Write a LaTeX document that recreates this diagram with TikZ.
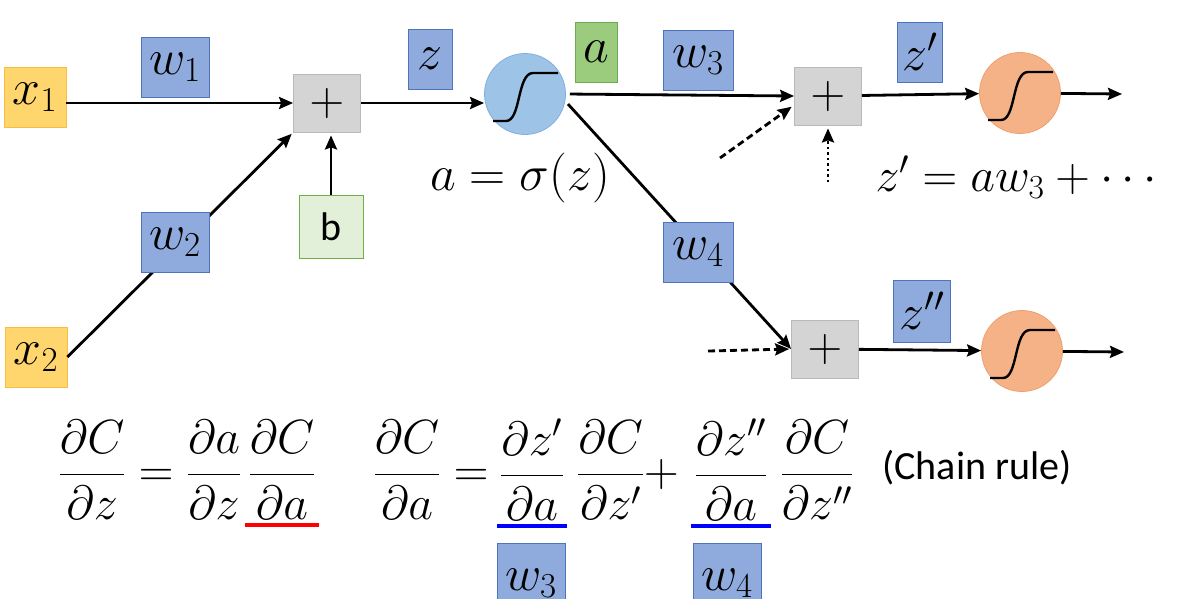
\documentclass[tikz,border=0pt]{standalone}
\usepackage{fix-cm}
\usepackage{amsmath}
\usepackage{fontspec}
\newfontfamily\calibri{Carlito}
\usetikzlibrary{arrows.meta}

\begin{document}
\begin{tikzpicture}[x=1pt,y=-1pt]
\definecolor{Wblue}{RGB}{143,170,220}
\definecolor{Wline}{RGB}{80,115,190}
\definecolor{Xfill}{RGB}{255,214,110}
\definecolor{Xline}{RGB}{250,190,60}
\definecolor{Afill}{RGB}{155,203,125}
\definecolor{Aline}{RGB}{110,170,80}
\definecolor{Bfill}{RGB}{226,240,217}
\definecolor{Bline}{RGB}{112,173,71}
\definecolor{Sgray}{RGB}{212,212,212}
\definecolor{Sline}{RGB}{185,185,185}
\definecolor{Sblue}{RGB}{157,195,230}
\definecolor{Sbline}{RGB}{130,175,225}
\definecolor{Sorange}{RGB}{245,178,135}
\definecolor{Soline}{RGB}{238,160,110}
\tikzstyle{box} = [draw, line width=0.8pt, inner sep=0, font=\fontsize{50}{58}\selectfont]
\tikzstyle{wbox} = [box, fill=Wblue, draw=Wline, minimum height=60pt]
\tikzstyle{xbox} = [box, fill=Xfill, draw=Xline, minimum width=62pt, minimum height=60pt]
\tikzstyle{sumbox} = [box, fill=Sgray, draw=Sline, minimum width=67pt, minimum height=58pt, font=\fontsize{48}{54}\selectfont]
\tikzstyle{sig} = [circle, line width=0.8pt, minimum size=81pt, inner sep=0]
\tikzstyle{conn} = [line width=2.8pt, -{Stealth[length=14pt,width=12pt,inset=2pt]}]
\tikzstyle{eq} = [inner ysep=0, inner xsep=3pt, font=\fontsize{48}{56}\selectfont]
\newcommand{\sigcurve}[1]{\draw[line width=2.4pt] ([shift={(-32,27)}]#1.center) -- ([shift={(-19,27)}]#1.center)
  .. controls ([shift={(-4,27)}]#1.center) and ([shift={(-8,-21)}]#1.center) .. ([shift={(8,-21)}]#1.center) -- ([shift={(33,-21)}]#1.center);}

\useasboundingbox (0,0) rectangle (1195,598);

% units
\node[xbox] (x1) at (35,97) {$x_1$};
\node[xbox] (x2) at (36,357) {$x_2$};
\node[sumbox] (sum1) at (327,103) {$+$};
\node[box, fill=Bfill, draw=Bline, minimum width=64pt, minimum height=63pt] (b) at (331,227) {\calibri\fontsize{40}{46}\selectfont b};
\node[sig, fill=Sblue, draw=Sbline] (sig1) at (525,94) {};
\node[sumbox] (sum2) at (828,96) {$+$};
\node[sumbox] (sum3) at (825,349) {$+$};
\node[sig, fill=Sorange, draw=Soline] (sig2) at (1020,93) {};
\node[sig, fill=Sorange, draw=Soline] (sig3) at (1022,351) {};
\sigcurve{sig1}
\sigcurve{sig2}
\sigcurve{sig3}

\coordinate (d2) at (720,158);
\coordinate (dot2) at (828,182);
\coordinate (d3) at (708,351);
\coordinate (out2) at (1122,94);
\coordinate (out3) at (1124,352);

% connectors
\draw[conn] (x1.east |- sum1.west) -- (sum1.west);
\draw[conn, shorten >=2pt] (x2.east) -- (sum1.south west);
\draw[conn, shorten >=3pt] (b.north) -- (b.north |- sum1.south);
\draw[conn] (sum1.east) -- (sig1.west |- sum1.east);
\draw[conn, shorten <=4pt] (sig1.east) -- (sum2.west);
\draw[conn, shorten <=4pt] (sig1.-10) -- (sum3.west);
\draw[conn] (sum2) -- (sig2);
\draw[conn] (sig2) -- (out2);
\draw[conn, dash pattern=on 7pt off 4pt, shorten >=3pt] (d2) -- ([yshift=-9pt]sum2.west);
\draw[conn, dash pattern=on 2.5pt off 3pt, shorten >=3pt] (dot2) -- (sum2.south);
\draw[conn, dash pattern=on 7pt off 4pt, shorten >=2pt] (d3) -- (sum3.west);
\draw[conn] (sum3) -- (sig3);
\draw[conn] (sig3) -- (out3);

% weights and values
\node[wbox, minimum width=68pt] (w1) at (175,67) {$w_1$};
\node[wbox, minimum width=68pt] (w2) at (175,242) {$w_2$};
\node[wbox, minimum width=44pt] (z) at (430,59) {$z$};
\node[box, fill=Afill, draw=Aline, minimum width=42pt, minimum height=60pt] (a) at (596,52) {$a$};
\node[wbox, minimum width=70pt] (w3) at (698,60) {$w_3$};
\node[wbox, minimum width=70pt] (w4) at (698,252) {$w_4$};
\node[wbox, minimum width=45pt] (zp) at (920,52) {$z'$};
\node[wbox, minimum width=57pt, minimum height=62pt] (zpp) at (922,311) {$z''$};

\node[font=\fontsize{50}{58}\selectfont] (asig) at (520,178) {$a=\sigma(z)$};
\node[font=\fontsize{48}{56}\selectfont] (zpeq) at (1020,177) {$z'=aw_3+\cdots$};

% chain rule
\node[eq] (eqa) at (150,470) {$\displaystyle\frac{\partial C}{\partial z}=\frac{\partial a}{\partial z}$};
\node[eq] (dCda) at (282,470) {$\displaystyle\frac{\partial C}{\partial a}$};
\node[eq] (eqb) at (431,470) {$\displaystyle\frac{\partial C}{\partial a}=$};
\node[eq] (dzpda) at (532,470) {$\displaystyle\frac{\partial z'}{\partial a}$};
\node[eq] (dCdzp) at (628,470) {$\displaystyle\frac{\partial C}{\partial z'}+$};
\node[eq] (dzppda) at (731,470) {$\displaystyle\frac{\partial z''}{\partial a}$};
\node[eq] (dCdzpp) at (817,470) {$\displaystyle\frac{\partial C}{\partial z''}$};
\node[font=\calibri\fontsize{40}{46}\selectfont] (chain) at (977,468) {(Chain rule)};

\draw[line width=4pt, red] ([yshift=-5pt]dCda.south west) -- ([yshift=-5pt]dCda.south east);
\draw[line width=4pt, blue] ([yshift=-5pt]dzpda.south west) -- ([yshift=-5pt]dzpda.south east);
\draw[line width=4pt, blue] ([yshift=-5pt]dzppda.south west) -- ([yshift=-5pt]dzppda.south east);

\node[wbox, minimum width=68pt, minimum height=80pt] (w3b) at (531,583) {$w_3$};
\node[wbox, minimum width=68pt, minimum height=80pt] (w4b) at (727,583) {$w_4$};

\end{tikzpicture}
\end{document}
